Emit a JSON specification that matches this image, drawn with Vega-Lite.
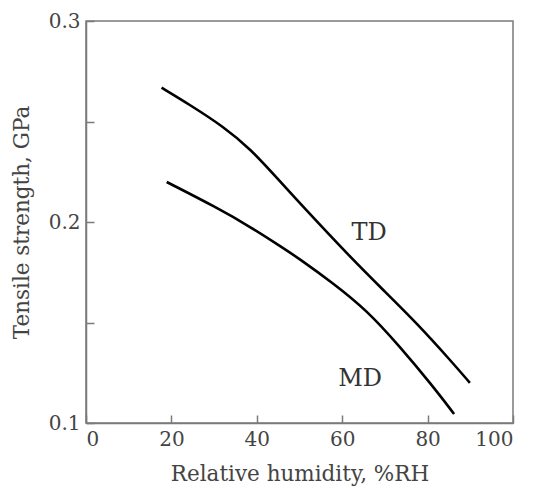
{
  "$schema": "https://vega.github.io/schema/vega-lite/v6.json",
  "width": 427,
  "height": 402,
  "autosize": {"type": "none"},
  "padding": {"left": 86, "top": 21, "right": 22, "bottom": 65},
  "background": "white",
  "config": {
    "view": {"stroke": "#7a7a7a", "strokeWidth": 1.5},
    "axis": {
      "grid": false,
      "domainColor": "#7a7a7a",
      "domainWidth": 1.5,
      "tickColor": "#7a7a7a",
      "tickWidth": 1.5,
      "tickSize": -8,
      "labelFont": "DejaVu Serif",
      "labelFontSize": 20,
      "labelColor": "#444",
      "titleFont": "DejaVu Serif",
      "titleFontSize": 21.5,
      "titleFontWeight": "normal",
      "titleColor": "#444"
    }
  },
  "datasets": {
    "curves": [
      {"rh": 17.7, "ts": 0.2668, "dir": "TD"},
      {"rh": 24.4, "ts": 0.2582, "dir": "TD"},
      {"rh": 32.2, "ts": 0.2474, "dir": "TD"},
      {"rh": 38.4, "ts": 0.2367, "dir": "TD"},
      {"rh": 46.2, "ts": 0.2184, "dir": "TD"},
      {"rh": 50.1, "ts": 0.2093, "dir": "TD"},
      {"rh": 61.8, "ts": 0.1827, "dir": "TD"},
      {"rh": 69.6, "ts": 0.1662, "dir": "TD"},
      {"rh": 77.5, "ts": 0.1496, "dir": "TD"},
      {"rh": 85.3, "ts": 0.1313, "dir": "TD"},
      {"rh": 89.9, "ts": 0.1200, "dir": "TD"},
      {"rh": 18.9, "ts": 0.2199, "dir": "MD"},
      {"rh": 30.6, "ts": 0.2072, "dir": "MD"},
      {"rh": 38.4, "ts": 0.1977, "dir": "MD"},
      {"rh": 46.2, "ts": 0.1870, "dir": "MD"},
      {"rh": 50.1, "ts": 0.1815, "dir": "MD"},
      {"rh": 57.9, "ts": 0.1695, "dir": "MD"},
      {"rh": 65.7, "ts": 0.1562, "dir": "MD"},
      {"rh": 73.5, "ts": 0.1380, "dir": "MD"},
      {"rh": 81.0, "ts": 0.1189, "dir": "MD"},
      {"rh": 86.2, "ts": 0.1045, "dir": "MD"}
    ],
    "labels": [
      {"rh": 66.3, "ts": 0.1945, "text": "TD"},
      {"rh": 64.2, "ts": 0.1220, "text": "MD"}
    ]
  },
  "layer": [
    {
      "data": {"name": "curves"},
      "mark": {"type": "line", "color": "black", "strokeWidth": 2.6, "interpolate": "basis"},
      "encoding": {
        "x": {
          "field": "rh", "type": "quantitative",
          "scale": {"domain": [0, 100], "nice": false},
          "axis": {"title": "Relative humidity, %RH", "values": [0, 20, 40, 60, 80, 100], "labelPadding": 14, "titleY": 57, "titleBaseline": "alphabetic"}
        },
        "y": {
          "field": "ts", "type": "quantitative",
          "scale": {"domain": [0.1, 0.3], "nice": false, "zero": false},
          "axis": {
            "title": "Tensile strength, GPa",
            "values": [0.1, 0.15, 0.2, 0.25, 0.3],
            "labelExpr": "datum.value === 0.15 || datum.value === 0.25 ? '' : format(datum.value, '.1f')",
            "labelPadding": 14,
            "titleX": -64,
            "titleY": 201,
            "titleBaseline": "middle"
          }
        },
        "detail": {"field": "dir", "type": "nominal"}
      }
    },
    {
      "data": {"name": "labels"},
      "mark": {"type": "text", "font": "DejaVu Serif", "fontSize": 24, "color": "#333"},
      "encoding": {
        "x": {"field": "rh", "type": "quantitative"},
        "y": {"field": "ts", "type": "quantitative"},
        "text": {"field": "text", "type": "nominal"}
      }
    }
  ]
}
